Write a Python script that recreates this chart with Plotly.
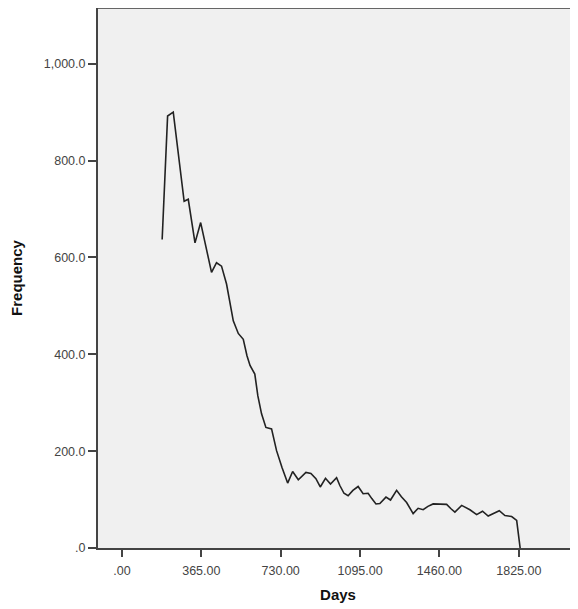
import plotly.graph_objects as go

days = [185, 210, 236, 262, 286, 305, 336, 362, 386, 412, 435, 458, 481, 497, 512,
        535, 558, 575, 589, 611, 625, 642, 662, 688, 711, 736, 762, 785, 811, 846,
        869, 892, 912, 936, 959, 987, 1002, 1021, 1040, 1062, 1086, 1109, 1132, 1149,
        1168, 1186, 1214, 1235, 1263, 1285, 1309, 1339, 1362, 1385, 1407, 1431, 1470,
        1493, 1513, 1531, 1562, 1582, 1600, 1631, 1658, 1684, 1707, 1735, 1761, 1792,
        1815, 1831]
frequency = [637, 892, 900, 809, 716, 720, 630, 672, 620, 569, 589, 582, 545, 504, 469,
             443, 431, 397, 377, 359, 314, 277, 249, 246, 201, 166, 134, 158, 141, 156,
             154, 143, 126, 144, 132, 145, 129, 113, 108, 119, 127, 112, 113, 102,
             91, 92, 105, 99, 119, 106, 94, 71, 82, 79, 86, 91, 90,
             90, 81, 74, 88, 83, 79, 69, 76, 66, 71, 77, 67, 65,
             57, 0]

x_tickvals = [0, 365, 730, 1095, 1460, 1825]
x_ticktext = [".00", "365.00", "730.00", "1095.00", "1460.00", "1825.00"]
y_tickvals = [0, 200, 400, 600, 800, 1000]
y_ticktext = [".0", "200.0", "400.0", "600.0", "800.0", "1,000.0"]

fig = go.Figure()
fig.add_trace(go.Scatter(x=days, y=frequency, mode="lines",
                         line=dict(color="#222222", width=1.6), showlegend=False))

fam = "Arial, Liberation Sans, sans-serif"
tickfont = dict(family=fam, size=12.5, color="#444444")
fig.update_layout(
    width=570, height=601,
    margin=dict(l=90, r=0, t=0, b=61),
    paper_bgcolor="white",
    plot_bgcolor="#f0f0f0",
    xaxis=dict(range=[-110, 2097], tickvals=x_tickvals, ticktext=x_ticktext,
               ticks="outside", ticklen=7, tickwidth=1.5, tickcolor="#444444",
               showgrid=False, zeroline=False, showline=True, linecolor="#444444",
               linewidth=2, tickfont=tickfont, ticklabelstandoff=3, automargin=False,
               title=dict(text="<b>Days</b>", standoff=12,
                          font=dict(family=fam, size=15, color="#111111"))),
    yaxis=dict(range=[0, 1115], tickvals=y_tickvals, ticktext=y_ticktext,
               ticks="outside", ticklen=8, tickwidth=1.5, tickcolor="#444444",
               showgrid=False, zeroline=False, showline=True, linecolor="#444444",
               linewidth=2, tickfont=tickfont, automargin=False,
               title=dict(text="<b>Frequency</b>", standoff=20,
                          font=dict(family=fam, size=15, color="#111111"))),
)
fig.add_shape(type="line", xref="paper", yref="paper", x0=0, x1=1, y0=1, y1=1,
              line=dict(color="#666666", width=2))
fig.write_html("out.html")
